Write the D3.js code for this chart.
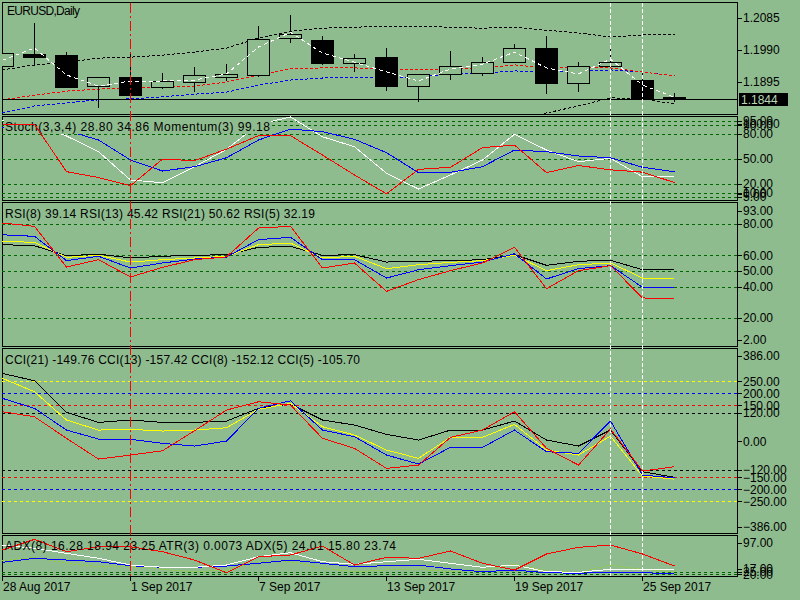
<!DOCTYPE html>
<html>
<head>
<meta charset="utf-8">
<script src="https://cdn.jsdelivr.net/npm/d3@7"></script>
<style>
  body { margin: 0; background: #8fbc8f; }
  svg { display: block; font-family: "Liberation Sans", Arial, sans-serif; font-size: 12px; }
</style>
</head>
<body>
<svg id="chart" width="800" height="600"></svg>
<script>
// bars
const dates = ["28 Aug 2017","29 Aug 2017","30 Aug 2017","31 Aug 2017","1 Sep 2017","4 Sep 2017","5 Sep 2017","6 Sep 2017",
  "7 Sep 2017","8 Sep 2017","11 Sep 2017","12 Sep 2017","13 Sep 2017","14 Sep 2017","15 Sep 2017","18 Sep 2017",
  "19 Sep 2017","20 Sep 2017","21 Sep 2017","22 Sep 2017","25 Sep 2017","26 Sep 2017"];
const opens  = [1.1943,1.1978,1.1975,1.1883,1.1910,1.1880,1.1895,1.1910,1.1916,1.2026,1.2020,1.1951,1.1969,1.1883,1.1919,1.1922,1.1954,1.1996,1.1892,1.1943,1.1901,1.1850];
const highs  = [1.1985,1.2070,1.1984,1.1910,1.1981,1.1922,1.1940,1.1948,1.2061,1.2094,1.2032,1.1978,1.1996,1.1920,1.1987,1.1969,1.2008,1.2032,1.1954,1.2005,1.1934,1.1862];
const lows   = [1.1940,1.1943,1.1877,1.1818,1.1848,1.1874,1.1865,1.1898,1.1910,1.2011,1.1945,1.1925,1.1868,1.1836,1.1901,1.1913,1.1951,1.1859,1.1865,1.1940,1.1833,1.1836];
const closes = [1.1981,1.1969,1.1880,1.1910,1.1856,1.1898,1.1916,1.1919,1.2023,1.2038,1.1951,1.1966,1.1883,1.1919,1.1943,1.1954,1.1996,1.1892,1.1943,1.1954,1.1845,1.1844];

// main window overlays
const maFast  = [1.1960,1.1996,1.1916,1.1883,1.1898,1.1898,1.1901,1.1919,1.1999,1.2043,1.1981,1.1954,1.1925,1.1898,1.1934,1.1948,1.1984,1.1937,1.1919,1.1963,1.1886,1.1850];
const maMid   = [1.1842,1.1856,1.1868,1.1874,1.1877,1.1880,1.1883,1.1895,1.1916,1.1934,1.1937,1.1937,1.1934,1.1931,1.1934,1.1937,1.1946,1.1937,1.1937,1.1937,1.1925,1.1913];
const maSlow  = [1.1803,1.1824,1.1833,1.1842,1.1845,1.1851,1.1859,1.1865,1.1886,1.1901,1.1907,1.1910,1.1910,1.1910,1.1919,1.1922,1.1928,1.1925,1.1928,1.1931,1.1925,1.1913];
const bandUp  = [1.1931,1.1946,1.1954,1.1966,1.1969,1.1975,1.1984,1.1996,1.2026,1.2046,1.2055,1.2058,1.2061,1.2061,1.2058,1.2055,1.2058,1.2049,1.2041,1.2029,1.2035,1.2035];
const bandLow = [1.1675,1.1702,1.1711,1.1717,1.1720,1.1726,1.1735,1.1735,1.1747,1.1756,1.1758,1.1761,1.1758,1.1758,1.1779,1.1788,1.1782,1.1803,1.1824,1.1848,1.1845,1.1830];
const lastPrice = 1.1844;
const priceTicks = [1.2085, 1.1990, 1.1895];

// Stoch(3,3,4) + Momentum(3)
const stochMain   = [96.4,91.7,77.4,58.7,25.0,21.8,40.8,61.5,91.3,100,76.5,64.6,33.0,14.3,31.0,48.8,79.4,60.7,46.8,50.8,28.9,28.8];
const stochSignal = [86.9,88.0,83.9,72.6,48.8,35.7,40.8,51.5,72.6,85.7,82.5,73.5,57.5,33.7,34.2,40.8,60.7,58.7,53.6,51.5,40.1,34.86];
const momentum    = [101.46,101.46,99.61,99.38,99.06,100.10,100.04,100.49,101.02,101.02,100.26,99.48,98.74,99.70,99.78,100.55,100.65,99.57,99.85,99.68,99.59,99.18];
const stochLevels = [95, 90, 80, 50, 20, 10, 5];

// RSI
const rsi8  = [73.1,72.1,56.6,59.4,51.9,55.1,57.6,58.9,70.0,71.5,57.2,57.2,45.5,50.8,53.4,55.7,61.0,44.9,51.5,53.4,39.6,39.14];
const rsi13 = [68.9,68.3,58.7,60.0,55.7,57.2,58.3,59.4,66.8,67.8,58.3,59.4,51.5,54.0,55.5,56.6,60.0,50.2,54.0,55.1,45.5,45.42];
const rsi21 = [66.8,66.1,59.7,60.8,58.3,59.4,60.0,60.4,65.1,65.7,60.0,60.4,55.7,56.2,56.6,57.2,60.4,53.6,56.2,56.8,50.8,50.62];
const rsi5  = [80.6,78.5,52.5,57.2,46.2,52.3,57.2,59.0,77.4,78.5,51.9,55.1,37.0,44.5,50.2,55.1,65.1,38.7,50.2,53.4,32.8,32.19];
const rsiLevels = [80, 60, 50, 40, 20];

// CCI
const cci21 = [283,252.5,120.8,79,88.8,79,79,84.6,137.5,155.4,88.8,68,29,5.4,47,47,84.6,5.4,-19.6,47,-126.5,-149.76];
const cci13 = [262.5,206.7,88.8,47,50,42.9,47,56.7,133.3,158.3,60.8,26.3,-36.3,-70.8,16.7,16.7,70.8,-36.3,-57.1,22,-144.6,-157.42];
const cci8  = [179,137.5,47,9.6,8.3,-8.3,-19.6,1.2,137.5,169,47,19.4,-57.1,-94.6,-25,-25,47,-43.3,-50,84.6,-140.4,-152.12];
const cci5  = [123.3,102.5,12.5,-73.8,-57.1,-39.2,44,130.4,165,151.3,12.5,-29.2,-112.5,-98.8,16.7,47,123.3,-29.2,-98.8,51.2,-123.8,-105.7];
const cciLevels = [250, 200, 150, 120, -120, -150, -200, -250];

// ADX(8) / ATR(3) / ADX(5) window
const adxRed   = [68.6,89.8,65.2,75.1,75.1,65.2,48.7,23.5,55.3,58.7,76.5,38.8,54.1,52.1,66.6,42.2,28.9,60.7,73.9,78.5,60.7,36.8];
const adxWhite = [78.5,72.0,62.0,52.1,38.8,34.3,34.3,38.8,55.3,63.2,45.4,40.2,45.4,50.1,42.2,34.3,38.8,25.5,24.3,30.3,30.3,28.9];
const adxBlue  = [44.2,52.1,48.7,45.4,37.4,34.3,34.3,36.8,42.2,48.7,42.2,35.5,37.4,38.8,30.9,25.5,28.9,23.5,22.4,24.3,23.5,21.6];
const adxGreen = [47.4,54.1,42.2,35.5,35.5,30.3,25.5,28.9,45.4,45.4,32.3,25.5,28.9,30.3,25.5,28.9,40.2,27.5,23.5,38.8,30.3,25.5];
const adxLevels = [25, 20];

const BG = "#8fbc8f";
const LEVEL = "#006400";
const svg = d3.select("#chart").attr("shape-rendering", "crispEdges");
svg.append("rect").attr("width", 800).attr("height", 600).attr("fill", BG);

const x = d3.scalePoint().domain(d3.range(dates.length)).range([2, 674]);
const LEFT = 2, RIGHT = 737;

function makePanel(id, top, bottom) {
    svg.append("clipPath").attr("id", id)
        .append("rect").attr("x", LEFT).attr("y", top).attr("width", RIGHT - LEFT).attr("height", bottom - top);
    svg.append("rect").attr("x", LEFT + 0.5).attr("y", top + 0.5)
        .attr("width", RIGHT - LEFT).attr("height", bottom - top)
        .attr("fill", "none").attr("stroke", "#000");
    return svg.append("g").attr("clip-path", `url(#${id})`);
}

function drawLine(g, values, y, color, dash) {
    g.append("path").datum(values)
        .attr("fill", "none").attr("stroke", color).attr("stroke-width", 1)
        .attr("stroke-dasharray", dash || null)
        .attr("d", d3.line().x((v, i) => x(i) + 0.5).y(v => y(v)));
}

function drawLevels(g, levels, y, colors) {
    g.selectAll(null).data(levels).enter().append("line")
        .attr("x1", LEFT).attr("x2", RIGHT)
        .attr("y1", d => Math.round(y(d)) + 0.5).attr("y2", d => Math.round(y(d)) + 0.5)
        .attr("stroke", (d, i) => colors ? colors[i] : LEVEL)
        .attr("stroke-dasharray", "3,3");
}

function rightLabels(items, fmt) {
    // items: [value, ypos]
    const t = svg.append("g");
    items.forEach(([v, yy]) => {
        const yr = Math.round(yy) + 0.5;
        t.append("line").attr("x1", RIGHT).attr("x2", RIGHT + 5).attr("y1", yr).attr("y2", yr).attr("stroke", "#000");
        t.append("text").attr("x", RIGHT + 6).attr("y", yy).attr("dy", "0.35em")
            .attr("fill", "#000").text(fmt(v));
    });
}

// window captions; width matched to the terminal font
function title(txt, yBase, width, mask) {
    const t = svg.append("text").attr("x", 5).attr("y", yBase).attr("fill", "#000")
        .attr("textLength", width).text(txt);
    if (mask) {
        const b = t.node().getBBox();
        svg.insert("rect", () => t.node())
            .attr("x", b.x - 1).attr("y", b.y).attr("width", b.width + 2).attr("height", b.height)
            .attr("fill", BG);
    }
    return t;
}

const f2 = d3.format(".2f");

// ---------- main price window ----------
const price = d3.scaleLinear().domain([1.1800, 1.2130]).range([114, 3]);
const main = makePanel("clipMain", 2, 114);

drawLine(main, bandUp, price, "#000", "3,2");
drawLine(main, bandLow, price, "#000", "3,2");
drawLine(main, maSlow, price, "#0000ff", "3,2");
drawLine(main, maMid, price, "#ff0000", "3,2");

main.append("line").attr("x1", LEFT).attr("x2", RIGHT)
    .attr("y1", Math.round(price(lastPrice)) + 0.5).attr("y2", Math.round(price(lastPrice)) + 0.5)
    .attr("stroke", "#000");

const candles = main.selectAll(".candle").data(d3.range(dates.length)).enter().append("g").attr("class", "candle");
candles.append("line")
    .attr("x1", i => x(i) + 0.5).attr("x2", i => x(i) + 0.5)
    .attr("y1", i => Math.round(price(highs[i]))).attr("y2", i => Math.round(price(lows[i])))
    .attr("stroke", "#000");
candles.append("rect")
    .attr("x", i => x(i) - 10.5)
    .attr("y", i => Math.round(price(Math.max(opens[i], closes[i]))) + 0.5)
    .attr("width", 22)
    .attr("height", i => Math.max(1, Math.round(price(Math.min(opens[i], closes[i]))) - Math.round(price(Math.max(opens[i], closes[i])))))
    .attr("fill", i => closes[i] >= opens[i] ? BG : "#000")
    .attr("stroke", "#000");

drawLine(main, maFast, price, "#ffffff", "4,3");

svg.append("text").attr("x", 7).attr("y", 15).attr("fill", "#000").attr("textLength", 73).text("EURUSD,Daily");
rightLabels(priceTicks.map(p => [p, price(p)]), d3.format(".4f"));
// current price box
const py = price(lastPrice);
svg.append("rect").attr("x", 739).attr("y", Math.round(py) - 6).attr("width", 49).attr("height", 13).attr("fill", "#000");
svg.append("text").attr("x", 741).attr("y", py).attr("dy", "0.4em").attr("fill", "#b8d8b8").text(lastPrice.toFixed(4));

// ---------- Stoch + Momentum ----------
const stochY = d3.scaleLinear().domain([0, 100]).range([201, 117]);
const momY = d3.scaleLinear().domain([98.46, 101.75]).range([201, 117]);
const stoch = makePanel("clipStoch", 116, 200);
drawLevels(stoch, stochLevels, stochY);
drawLine(stoch, stochMain, stochY, "#ffffff");
drawLine(stoch, stochSignal, stochY, "#0000ff");
title("Stoch(3,3,4) 28.80 34.86 Momentum(3) 99.18", 131, 265, true);
const stochTop = svg.append("g").attr("clip-path", "url(#clipStoch)");
drawLine(stochTop, momentum, momY, "#ff0000");
rightLabels([[100, 124]].concat(stochLevels.map(v => [v, stochY(v)])).concat([[0, 194]]), f2);

// ---------- RSI ----------
const rsiY = d3.scaleLinear().domain([2, 93]).range([346.2, 203.6]);
const rsi = makePanel("clipRsi", 202, 346);
title("RSI(8) 39.14 RSI(13) 45.42 RSI(21) 50.62 RSI(5) 32.19", 218, 310);
drawLevels(rsi, rsiLevels, rsiY);
drawLine(rsi, rsi21, rsiY, "#000000");
drawLine(rsi, rsi13, rsiY, "#ffff00");
drawLine(rsi, rsi8, rsiY, "#0000ff");
drawLine(rsi, rsi5, rsiY, "#ff0000");
rightLabels([[93, 210.5]].concat(rsiLevels.map(v => [v, rsiY(v)])).concat([[2, 339.5]]), f2);

// ---------- CCI ----------
const cciY = d3.scaleLinear().domain([-386, 386]).range([534, 348.7]);
const cci = makePanel("clipCci", 348, 533);
title("CCI(21) -149.76 CCI(13) -157.42 CCI(8) -152.12 CCI(5) -105.70", 364, 355);
const cciColors = ["#ffff00", "#0000ff", "#ff0000", "#000000", "#000000", "#ff0000", "#0000ff", "#ffff00"];
drawLevels(cci, cciLevels, cciY, cciColors);
drawLine(cci, cci21, cciY, "#000000");
drawLine(cci, cci13, cciY, "#ffff00");
drawLine(cci, cci8, cciY, "#0000ff");
drawLine(cci, cci5, cciY, "#ff0000");
rightLabels([[386, 355.5]].concat(cciLevels.slice(0, 4).map(v => [v, cciY(v)]))
    .concat([[0, cciY(0)]])
    .concat(cciLevels.slice(4).map(v => [v, cciY(v)]))
    .concat([[-386, 526.5]]), f2);

// ---------- ADX / ATR ----------
const adxY = d3.scaleLinear().domain([17, 97]).range([576, 535.7]);
const adx = makePanel("clipAdx", 535, 576);
title("ADX(8) 16.28 18.94 23.25 ATR(3) 0.0073 ADX(5) 24.01 15.80 23.74", 550, 391);
drawLevels(adx, adxLevels, adxY);
drawLine(adx, adxGreen, adxY, "#9acd32", "2,2");
drawLine(adx, adxBlue, adxY, "#0000ff");
drawLine(adx, adxWhite, adxY, "#ffffff");
drawLine(adx, adxRed, adxY, "#ff0000");
rightLabels([[97, 542.5], [17, 569], [25, adxY(25)], [20, adxY(20)]], f2);

// ---------- vertical markers ----------
function vline(i, color, dash) {
    svg.append("line").attr("x1", x(i) + 0.5).attr("x2", x(i) + 0.5).attr("y1", 3).attr("y2", 576)
        .attr("stroke", color).attr("stroke-dasharray", dash);
}
vline(4, "#ff0000", "10,3,2,3");
vline(19, "#ffffff", "4,2");
vline(20, "#ffffff", "4,2");

// ---------- time axis ----------
const dateTicks = d3.range(0, dates.length, 4);
const xa = svg.append("g");
dateTicks.forEach(i => {
    xa.append("line").attr("x1", x(i) + 0.5).attr("x2", x(i) + 0.5).attr("y1", 576).attr("y2", 581).attr("stroke", "#000");
    xa.append("text").attr("x", x(i) + 1).attr("y", 591).attr("fill", "#000").text(dates[i]);
});
</script>
</body>
</html>
